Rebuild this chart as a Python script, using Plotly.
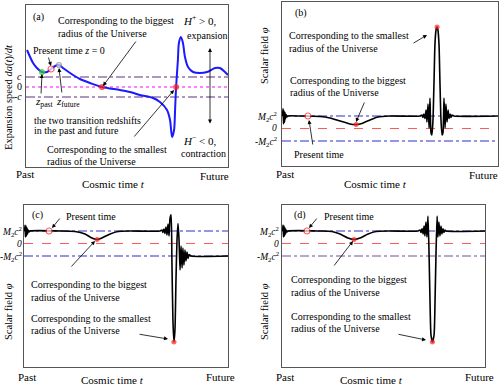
import plotly.graph_objects as go

# ---------------- data (time in arbitrary units 0..100) ----------------
# (a) expansion speed, in units of c
a_t = [0.5, 3.5, 5.4, 7.9, 10.4, 12.4, 14.4, 16.3, 18.3, 21.8, 26.7, 31.7, 37.6, 46.5, 51.5,
       56.4, 62.9, 66.3, 69.8, 71.3, 72.3, 73.3, 73.8, 74.3, 75.2, 75.7, 76.7, 77.7, 78.7,
       80.2, 82.7, 86.1, 89.6, 93.6, 96.0, 98.5, 100]
a_v = [3.7, 2.4, 1.9, 1.5, 1.5, 1.8, 2.1, 2.2, 1.9, 1.4, 0.8, 0.4, 0.0, -0.3, -0.5,
       -0.8, -1.1, -1.5, -2.3, -3.3, -5.0, -4.3, -2.3, 0.0, 2.7, 4.4, 5.0, 4.4, 3.0,
       2.0, 1.5, 1.4, 1.5, 1.9, 1.9, 1.5, 1.2]
a_levels = [1, 0, -1]
a_level_labels = ["<i>c</i>", "0", "-<i>c</i>"]
a_marks_t = [7.9, 12.4, 16.3, 37.6, 74.3]
a_marks_v = [1.5, 1.8, 2.2, 0.0, 0.0]

# (b) scalar field, in units of M2c^2
b_t = [0.2, 0.5, 0.7, 0.9, 1.2, 1.4, 1.6, 1.9, 2.3, 2.8, 8.3, 17.6, 22.2, 26.9, 31.5, 34.3,
       37.0, 40.7, 44.4, 50.0, 63.9, 64.8, 65.3, 65.7, 66.2, 66.7, 67.1, 67.6, 68.1, 68.5,
       69.0, 69.4, 69.9, 70.4, 70.8, 71.3, 71.8, 72.2, 72.7, 73.1, 73.6, 74.1, 74.5, 75.0,
       75.5, 75.9, 76.4, 76.9, 77.3, 77.8, 78.2, 78.7, 79.6, 100]
b_phi = [1.0, 1.6, 0.36, 1.44, 0.5, 1.28, 0.76, 1.12, 0.92, 1.0, 1.0, 0.96, 0.84, 0.6, 0.36, 0.32,
         0.4, 0.68, 0.92, 1.0, 1.0, 1.08, 0.88, 1.16, 0.8, 1.48, 0.52, 1.96, 0.04, 2.44,
         -0.36, -0.52, 0.68, 3.88, 6.68, 7.88, 8.12, 7.88, 6.68, 3.88, 0.68, -0.52, -0.36,
         2.44, 0.04, 1.96, 0.52, 1.48, 0.8, 1.16, 0.88, 1.08, 1.0, 1.0]
b_marks_t = [12.0, 34.3, 71.8]
b_marks_phi = [1.0, 0.32, 8.12]

# (c) scalar field
c_t = [0.25, 0.5, 0.7, 1.0, 1.2, 1.5, 1.7, 2.0, 2.5, 2.9, 17.6, 25.0, 29.9, 33.3, 35.8, 38.2,
       42.2, 46.1, 52.0, 66.7, 67.6, 68.1, 68.6, 69.1, 69.6, 70.1, 70.6, 71.1, 71.6, 72.1,
       72.5, 73.0, 73.5, 74.0, 74.5, 75.0, 75.5, 76.0, 76.5, 77.0, 77.5, 77.9, 78.4, 78.9,
       79.4, 79.9, 80.4, 80.9, 81.9, 100]
c_phi = [1.0, 1.48, 0.52, 1.4, 0.6, 1.24, 0.76, 1.08, 0.92, 1.0, 1.0, 0.96, 0.76, 0.44, 0.32, 0.44,
         0.76, 0.96, 1.0, 1.0, 1.08, 0.88, 1.16, 0.8, 1.32, 0.68, 1.56, 0.6, 2.04, 2.3,
         -1.32, -6.12, -7.88, -6.92, -2.92, 0.28, 1.6, 0.28, -2.12, -0.2, -1.96, -0.36, -1.72, -0.52,
         -1.4, -0.68, -1.2, -0.88, -1.0, -1.0]
c_marks_t = [12.3, 35.8, 73.5]
c_marks_phi = [1.0, 0.32, -7.88]

# (d) scalar field
d_t = [0.25, 0.5, 0.74, 1.0, 1.2, 1.5, 1.7, 2.0, 2.5, 3.0, 18.7, 24.6, 28.6, 32.5, 35.5, 38.4,
       42.4, 46.3, 53.2, 67.0, 68.0, 68.5, 69.0, 69.5, 70.0, 70.4, 70.9, 71.4, 71.9, 72.4,
       72.9, 73.4, 74.1, 74.9, 75.4, 75.9, 76.4, 76.8, 77.3, 77.8, 78.3, 78.8, 79.3, 79.8,
       80.3, 80.8, 100]
d_phi = [1.0, 1.48, 0.52, 1.4, 0.6, 1.24, 0.76, 1.08, 0.92, 1.0, 1.0, 0.96, 0.76, 0.44, 0.32, 0.44,
         0.76, 0.96, 1.0, 1.0, 1.08, 0.88, 1.2, 0.76, 1.4, 0.6, 1.72, 0.52, 2.2, -0.52,
         -4.52, -7.32, -7.88, -7.32, -4.52, -0.52, 2.2, 0.52, 1.72, 0.6, 1.4, 0.76, 1.2, 0.88,
         1.08, 1.0, 1.0]
d_marks_t = [12.3, 35.5, 74.1]
d_marks_phi = [1.0, 0.32, -7.88]

phi_levels = [1, 0, -1]
phi_level_labels = ["<i>M</i><sub>2</sub><i>c</i><sup>2</sup>", "<i>0</i>",
                    "-<i>M</i><sub>2</sub><i>c</i><sup>2</sup>"]

# ---------------- layout helpers ----------------
W, H = 500, 385
FONT = "Liberation Serif, Times New Roman, serif"


def px(x):
    return x / W


def py(y):
    return 1 - y / H


fig = go.Figure()

panels = {
    # name: (xaxis id, yaxis id, px-left, px-right, px-top, px-bottom, yrange)
    "a": ("x", "y", 26, 228, 5, 167, [-8.0, 8.2]),
    "b": ("x2", "y2", 282, 498, 2, 166, [-3.0, 10.12]),
    "c": ("x3", "y3", 24, 228, 205, 367, [-9.88, 3.08]),
    "d": ("x4", "y4", 282, 485, 205, 367, [-9.88, 3.08]),
}

layout = {}
for i, (k, (xa, ya, l, r, t, b, yr)) in enumerate(panels.items()):
    sx = "" if i == 0 else str(i + 1)
    layout["xaxis" + sx] = dict(domain=[px(l), px(r)], range=[0, 100], anchor=ya,
                                showticklabels=False, ticks="", showgrid=False, zeroline=False,
                                showline=True, mirror=True, linecolor="#555555", linewidth=1)
    layout["yaxis" + sx] = dict(domain=[py(b), py(t)], range=yr, anchor=xa,
                                showticklabels=False, ticks="", showgrid=False, zeroline=False,
                                showline=True, mirror=True, linecolor="#555555", linewidth=1)


def hline(xa, ya, yv, color, dash, width=1.2):
    fig.add_trace(go.Scatter(x=[0, 100], y=[yv, yv], mode="lines", xaxis=xa, yaxis=ya,
                             line=dict(color=color, dash=dash, width=width), hoverinfo="skip"))


# reference lines
hline("x", "y", a_levels[0], "#5e2f80", "dashdot")
hline("x", "y", a_levels[1], "#ff55ff", "dot", 1.5)
hline("x", "y", a_levels[2], "#5e2f80", "dashdot")
for xa, ya, low_col in [("x2", "y2", "#2f2fcc"), ("x3", "y3", "#2f2fcc"), ("x4", "y4", "#7a4fa0")]:
    hline(xa, ya, phi_levels[0], "#2f2fcc", "dashdot")
    hline(xa, ya, phi_levels[1], "#ff5a5a", "dash")
    hline(xa, ya, phi_levels[2], low_col, "dashdot")

# curves
fig.add_trace(go.Scatter(x=a_t, y=a_v, mode="lines", xaxis="x", yaxis="y",
                         line=dict(color="#1a1aff", width=2, shape="spline", smoothing=0.8)))
for xa, ya, tt, vv in [("x2", "y2", b_t, b_phi), ("x3", "y3", c_t, c_phi), ("x4", "y4", d_t, d_phi)]:
    fig.add_trace(go.Scatter(x=tt, y=vv, mode="lines", xaxis=xa, yaxis=ya,
                             line=dict(color="black", width=1.6, shape="spline", smoothing=0.6)))

# markers
fig.add_trace(go.Scatter(x=a_marks_t, y=a_marks_v, mode="markers", xaxis="x", yaxis="y",
                         marker=dict(size=[5, 6, 5, 5, 5],
                                     color=["#33cc33", "white", "#dddddd", "#ff2020", "#ff2020"],
                                     line=dict(color=["#33cc33", "#ff2020", "#888888", "#ff2020", "#ff2020"],
                                               width=1.2))))
for xa, ya, tt, vv in [("x2", "y2", b_marks_t, b_marks_phi), ("x3", "y3", c_marks_t, c_marks_phi),
                       ("x4", "y4", d_marks_t, d_marks_phi)]:
    fig.add_trace(go.Scatter(x=tt, y=vv, mode="markers", xaxis=xa, yaxis=ya,
                             marker=dict(size=[6, 4, 4], color=["white", "#ff2020", "#ff2020"],
                                         line=dict(color="#ff2020", width=1.2))))

ann = []


def text(x, y, s, size=10, xanchor="left", angle=0):
    ann.append(dict(x=px(x), y=py(y), xref="paper", yref="paper", text=s, showarrow=False,
                    xanchor=xanchor, yanchor="middle", textangle=angle, borderpad=0,
                    font=dict(family=FONT, size=size, color="black")))


def arrow(tx, ty, hx, hy, side="end"):
    ann.append(dict(x=px(hx), y=py(hy), xref="paper", yref="paper", text="", showarrow=True,
                    ax=tx - hx, ay=ty - hy, arrowhead=2, arrowsize=1, arrowwidth=0.8,
                    arrowcolor="black", arrowside=side))


# axis texts: (past-left, past-y, future-right, future-y, title-center, title-y)
for (pl, pyy, fr, fy, cx, cy) in [(15, 174, 230, 176, 113, 184), (275, 174, 499, 175, 375, 184),
                                  (17, 377, 236, 377, 112, 380), (275, 377, 495, 377, 371, 380)]:
    text(pl, pyy, "Past", 11)
    text(fr, fy, "Future", 11, "right")
    text(cx, cy, "Cosmic time <i>t</i>", 11, "center")

text(9, 97, "Expansion speed <i>da</i>(<i>t</i>)/<i>dt</i>", 10.5, "center", -90)
text(264, 56, "Scalar field <i>φ</i>", 10.5, "center", -90)
text(8, 312, "Scalar field <i>φ</i>", 10.5, "center", -90)
text(264, 312, "Scalar field <i>φ</i>", 10.5, "center", -90)

# y level labels
for lab, yy in zip(a_level_labels, [77, 87, 97]):
    text(23, yy, lab, 10, "right")
for lab, yy in zip(phi_level_labels, [116, 128.5, 141]):
    text(278, yy, lab, 9.5, "right")
for lab, yy in zip(phi_level_labels, [231, 243.5, 256]):
    text(23, yy, lab, 9.5, "right")
    text(280, yy, lab, 9.5, "right")

# panel (a)
text(32, 17, "(a)")
text(57, 20, "Corresponding to the biggest")
text(57, 33, "radius of the Universe")
arrow(137, 40, 103, 86)
text(32, 50, "Present time <i>z</i> = 0")
arrow(48, 56, 51, 66)
text(34, 102, "<i>z</i><sub>past</sub>", 11)
arrow(41, 95, 42, 74)
text(55, 102, "<i>z</i><sub>future</sub>", 11)
arrow(62, 94, 59, 68)
text(33, 120, "the two transition redshifts")
text(33, 130, "in the past and future")
text(46, 149, "Corresponding to the smallest")
text(46, 161, "radius of the Universe")
arrow(133, 138, 174, 90)
text(182, 20, "<i>H</i><sup>+</sup> > 0,", 11)
text(186, 35, "expansion")
arrow(210, 125, 210, 48, "end+start")
text(182, 140, "<i>H</i><sup>−</sup> < 0,", 11)
text(180, 153, "contraction")

# panel (b)
text(294, 13, "(b)")
text(288, 35, "Corresponding to the smallest")
text(288, 49, "radius of the Universe")
arrow(412, 44, 427, 35)
text(289, 80, "Corresponding to the biggest")
text(289, 93, "radius of the Universe")
arrow(365, 101, 356, 122)
text(293, 154, "Present time")
arrow(313, 146, 309, 120)

# panel (c)
text(31, 215, "(c)")
text(65, 216, "Present time")
arrow(61, 217, 52, 228)
text(30, 284, "Corresponding to the biggest")
text(30, 297, "radius of the Universe")
arrow(70, 268, 95, 241)
text(30, 318, "Corresponding to the smallest")
text(30, 330, "radius of the Universe")
arrow(138, 334, 168, 339)

# panel (d)
text(293, 215, "(d)")
text(323, 216, "Present time")
arrow(318, 217, 309, 228)
text(290, 279, "Corresponding to the biggest")
text(290, 292, "radius of the Universe")
arrow(333, 267, 353, 241)
text(290, 316, "Corresponding to the smallest")
text(290, 328, "radius of the Universe")
arrow(397, 334, 426, 340)

fig.update_layout(width=W, height=H, margin=dict(l=0, r=0, t=0, b=0), showlegend=False,
                  plot_bgcolor="white", paper_bgcolor="white", annotations=ann,
                  font=dict(family=FONT), **layout)
fig.write_html("out.html", config={"displayModeBar": False},
               post_script="document.body.style.margin='0px';document.body.style.overflow='hidden';")
